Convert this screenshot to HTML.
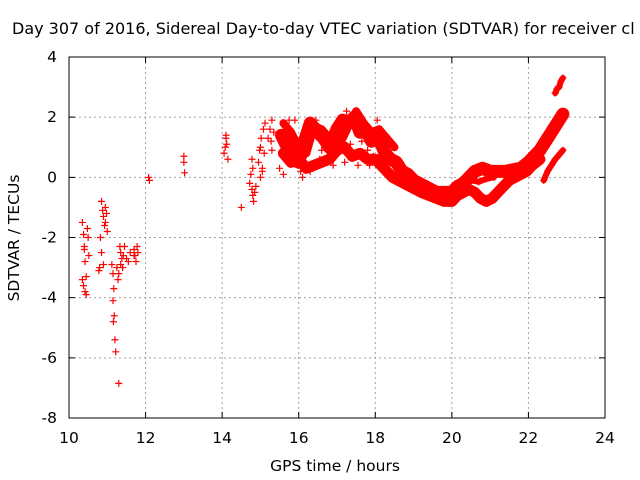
<!DOCTYPE html>
<html><head><meta charset="utf-8"><style>
body{margin:0;background:#fff;}
svg{display:block;font-family:"DejaVu Sans","Liberation Sans",sans-serif;}
</style></head><body>
<svg id="chart" width="640" height="480">
<text x="12" y="34" font-size="16" fill="#000">Day 307 of 2016, Sidereal Day-to-day VTEC variation (SDTVAR) for receiver cl</text>
<g id="grid"></g>
<g id="axes"></g>
<g id="marks"></g>
<text x="335" y="471" font-size="15.5" text-anchor="middle">GPS time / hours</text>
<text transform="translate(19,238) rotate(-90)" font-size="15.5" text-anchor="middle">SDTVAR / TECUs</text>
</svg>
<script>
const xTicks=[10,12,14,16,18,20,22,24];
const yTicks=[-8,-6,-4,-2,0,2,4];
const trackUpperX=[15.55,15.7,15.85,16.0,16.15,16.3,16.5,16.65,16.8,17.0,17.15,17.3,17.45,17.6,17.75,17.9,18.1,18.25,18.4,18.55,18.7,18.85,19.0,19.15,19.3,19.45,19.6,19.8,20.0,20.15,20.3,20.45,20.6,20.8,21.0,21.2,21.4,21.6,21.8,22.0,22.15,22.3,22.45,22.6,22.75,22.9];
const trackUpperY=[1.4,1.0,0.6,0.5,1.2,1.8,1.5,1.3,1.0,1.6,1.9,1.8,2.0,1.5,1.6,1.2,1.3,0.8,0.6,0.5,0.2,0.1,-0.1,-0.2,-0.3,-0.4,-0.5,-0.5,-0.5,-0.3,-0.2,0.0,0.2,0.3,0.2,0.2,0.2,0.25,0.3,0.5,0.7,0.9,1.2,1.5,1.8,2.1];
const trackLowerX=[15.6,15.8,16.0,16.2,16.4,16.6,16.8,17.0,17.2,17.4,17.6,17.8,18.0,18.15,18.3,18.45,18.6,18.75,18.9,19.05,19.2,19.4,19.6,19.8,20.0,20.15,20.3,20.45,20.6,20.75,20.9,21.05,21.2,21.35,21.5,21.65,21.8,21.95,22.1,22.2,22.3];
const trackLowerY=[0.8,0.5,0.6,0.3,0.4,0.5,0.6,0.9,1.0,0.7,0.8,0.6,0.6,0.4,0.2,0.0,-0.1,-0.2,-0.3,-0.4,-0.5,-0.6,-0.7,-0.8,-0.8,-0.6,-0.5,-0.4,-0.5,-0.7,-0.8,-0.7,-0.5,-0.3,-0.1,0.0,0.1,0.2,0.4,0.5,0.6];
const trackFX=[15.6,15.8,16.0,16.2,16.4,16.6,16.8,17.0,17.15,17.3,17.5,17.7,17.9,18.1,18.3,18.5];
const trackFY=[1.8,1.5,1.0,0.8,1.7,1.6,1.3,1.0,1.3,1.7,2.2,1.8,1.5,1.6,1.3,1.0];
const trackLoopX=[20.3,20.5,20.7,20.9,21.1];
const trackLoopY=[-0.3,-0.1,-0.15,-0.05,0.0];
const trackDX=[22.4,22.5,22.6,22.7,22.8,22.9];
const trackDY=[-0.1,0.2,0.4,0.6,0.75,0.9];
const trackEX=[22.7,22.75,22.8,22.85,22.9];
const trackEY=[2.8,2.95,3.0,3.2,3.3];
const sparseX=[10.35,10.38,10.4,10.42,10.45,10.35,10.38,10.42,10.45,10.5,10.48,10.4,10.52,10.85,10.88,10.9,10.93,10.95,10.98,11.0,10.82,10.85,10.9,10.8,10.78,10.95,11.12,11.15,11.17,11.15,11.18,11.16,11.2,11.22,11.3,11.33,11.35,11.38,11.4,11.3,11.28,11.35,11.42,11.45,11.5,11.55,11.25,11.6,11.7,11.72,11.75,11.78,11.8,11.7,12.08,12.1,13.0,13.0,13.02,14.05,14.08,14.1,14.12,14.15,14.1,14.5,14.72,14.75,14.78,14.8,14.82,14.85,14.88,14.8,14.78,14.95,15.0,15.05,15.1,15.02,14.98,15.08,15.12,15.0,15.05,15.25,15.28,15.3,15.35,15.2,15.3];
const sparseY=[-1.5,-1.9,-2.3,-2.8,-3.3,-3.4,-3.6,-3.8,-3.9,-2.0,-1.7,-2.4,-2.6,-0.8,-1.1,-1.3,-1.6,-1.0,-1.2,-1.8,-2.0,-2.5,-2.9,-3.0,-3.1,-1.5,-2.9,-3.2,-3.7,-4.1,-4.6,-4.8,-5.4,-5.8,-6.85,-2.3,-2.5,-2.7,-3.0,-3.2,-3.4,-2.9,-2.6,-2.3,-2.7,-2.8,-3.0,-2.5,-2.4,-2.6,-2.8,-2.3,-2.5,-2.6,0.0,-0.1,0.7,0.5,0.15,0.8,1.0,1.3,1.1,0.6,1.4,-1.0,-0.2,0.1,-0.4,-0.6,-0.8,-0.5,-0.3,0.3,0.6,0.5,0.0,0.3,0.8,1.3,0.9,1.6,1.8,1.0,0.2,1.6,1.2,1.9,1.5,1.3,0.9];
const sparse2X=[15.5,15.6,15.7,15.75,15.9,16.1,16.3,16.45,16.6,16.75,16.9,17.05,17.2,17.35,17.55,17.65,17.8,17.95,18.05,18.2,18.35,15.65,16.05,16.55,17.25,17.85];
const sparse2Y=[0.3,0.1,0.9,1.9,1.9,0.0,0.2,1.9,0.9,1.0,0.4,1.4,0.5,1.1,0.4,1.2,0.9,0.7,1.9,1.1,0.9,0.6,0.2,0.6,2.2,0.4];

const L=69,R=605,T=57,B=418;
function sx(v){return L+(v-10)*(R-L)/14;}
function sy(v){return T+(4-v)*(B-T)/12;}
const NS="http://www.w3.org/2000/svg";
const grid=document.getElementById('grid'),axes=document.getElementById('axes'),marks=document.getElementById('marks');
function mk(tag,attrs,parent){const e=document.createElementNS(NS,tag);for(const k in attrs)e.setAttribute(k,attrs[k]);parent.appendChild(e);return e;}
xTicks.forEach(t=>{
  const x=sx(t);
  if(t>10&&t<24){const g=mk('line',{x1:x,y1:T,x2:x,y2:B,stroke:'#a0a0a0','stroke-dasharray':'2,3'},grid);
  
  }
  const tk=mk('path',{d:`M${x},${B}v-6M${x},${T}v6`,stroke:'#000'},axes);
  
  
  const lb=mk('text',{x:x,y:B+25,'font-size':15.5,'text-anchor':'middle'},axes);lb.textContent=t;
  
  
});
yTicks.forEach(t=>{
  const y=sy(t);
  if(t>-8&&t<4){const g=mk('line',{x1:L,y1:y,x2:R,y2:y,stroke:'#a0a0a0','stroke-dasharray':'2,3'},grid);
  
  }
  const tk=mk('path',{d:`M${L},${y}h6M${R},${y}h-6`,stroke:'#000'},axes);
  
  
  const lb=mk('text',{x:L-12,y:y+5,'font-size':15.5,'text-anchor':'end'},axes);lb.textContent=t;
  
  
});
const frame=mk('rect',{x:L,y:T,width:R-L,height:B-T,fill:'none',stroke:'#000'},axes);


function plus(x,y){
  const p=mk('path',{d:`M${sx(x)-3.5},${sy(y)}h7M${sx(x)},${sy(y)-3.5}v7`,stroke:'#f00','stroke-width':1.2},marks);
  
  
}
function track(xs,ys,w,name){
  const d=xs.map((v,i)=>(i?'L':'M')+sx(v)+','+sy(ys[i])).join('');
  const p=mk('path',{d:d,stroke:'#f00','stroke-width':w,fill:'none','stroke-linejoin':'round','stroke-linecap':'round'},marks);
  
  
  xs.forEach((v,i)=>plus(v,ys[i]));
}
track(trackUpperX,trackUpperY,13,'upper-track');
track(trackLowerX,trackLowerY,11,'lower-track');
track(trackFX,trackFY,8,'upper-scatter-track');
track(trackLoopX,trackLoopY,6,'loop-track');
track(trackDX,trackDY,6,'late-low-track');
track(trackEX,trackEY,6,'late-high-track');
sparseX.forEach((v,i)=>plus(v,sparseY[i]));
sparse2X.forEach((v,i)=>plus(v,sparse2Y[i]));
</script>
</body></html>
